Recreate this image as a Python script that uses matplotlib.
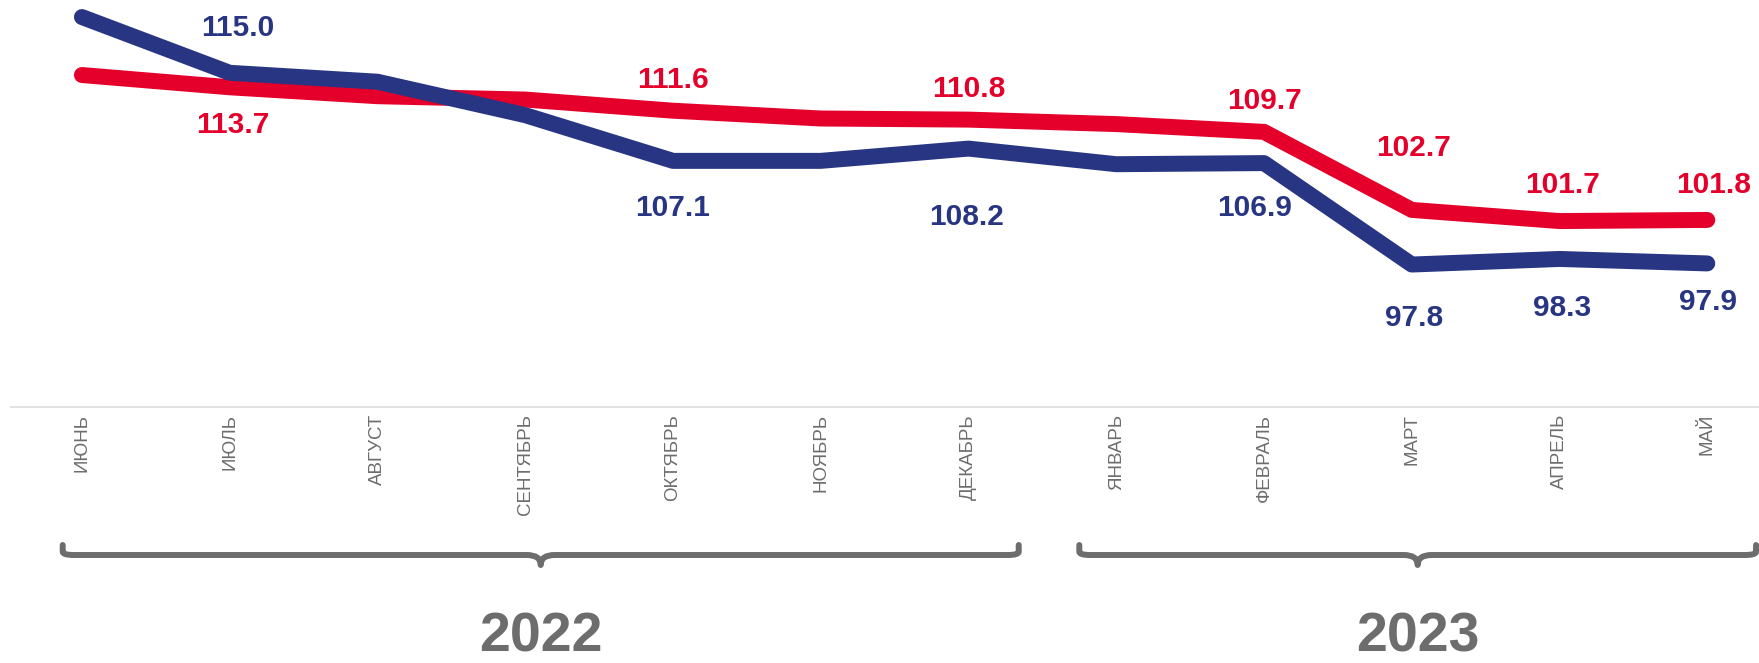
import matplotlib
matplotlib.use('Agg')
import matplotlib.pyplot as plt
from matplotlib.path import Path
from matplotlib.patches import PathPatch
from matplotlib.transforms import blended_transform_factory

plt.rcParams['font.family'] = ['Liberation Sans', 'DejaVu Sans']

# данные
months = ['ИЮНЬ', 'ИЮЛЬ', 'АВГУСТ', 'СЕНТЯБРЬ', 'ОКТЯБРЬ', 'НОЯБРЬ', 'ДЕКАБРЬ',
          'ЯНВАРЬ', 'ФЕВРАЛЬ', 'МАРТ', 'АПРЕЛЬ', 'МАЙ']
blue_vals = [120.0, 115.0, 114.2, 111.2, 107.1, 107.1, 108.2, 106.8, 106.9, 97.8, 98.3, 97.9]
red_vals = [114.8, 113.7, 112.9, 112.6, 111.6, 110.9, 110.8, 110.4, 109.7, 102.7, 101.7, 101.8]
# какие точки подписаны
blue_labeled = [1, 4, 6, 8, 9, 10, 11]
red_labeled = [1, 4, 6, 8, 9, 10, 11]
years = ['2022', '2023']

# оформление
BLUE = '#283583'
RED = '#e4002b'
GRAY = '#6d6d6d'
blue_offsets = {1: (8, 45), 4: (0, -47), 6: (-2, -68), 8: (-9, -45),
                9: (2, -53), 10: (3, -49), 11: (1, -39)}
red_offsets = {1: (3, -38), 4: (0, 31), 6: (0, 31), 8: (0, 31),
               9: (2, 62), 10: (3, 36), 11: (6, 35)}
brace_ext = [(-0.13, 6.34), (6.75, 11.33)]

W, H = 1759, 663
fig = plt.figure(figsize=(W / 100, H / 100), dpi=100)
ax = fig.add_axes([11 / W, 1 - 407 / H, (W - 11) / W, 407 / H])

x = list(range(len(months)))
ax.plot(x, red_vals, color=RED, lw=11.5, solid_capstyle='round', solid_joinstyle='round', zorder=3)
ax.plot(x, blue_vals, color=BLUE, lw=11.5, solid_capstyle='round', solid_joinstyle='round', zorder=4)

for i in blue_labeled:
    dx, dy = blue_offsets[i]
    ax.annotate(f'{blue_vals[i]:.1f}', (x[i], blue_vals[i]), xytext=(dx, dy),
                textcoords='offset pixels', ha='center', va='center',
                fontsize=21.5, fontweight='bold', color=BLUE)
for i in red_labeled:
    dx, dy = red_offsets[i]
    ax.annotate(f'{red_vals[i]:.1f}', (x[i], red_vals[i]), xytext=(dx, dy),
                textcoords='offset pixels', ha='center', va='center',
                fontsize=21.5, fontweight='bold', color=RED)

ax.set_xlim(-0.48, 11.35)
ax.set_ylim(85.02, 121.53)
ax.set_yticks([])
ax.set_xticks(x)
ax.set_xticklabels(months, rotation=90, fontsize=13.5, color=GRAY)
ax.tick_params(axis='x', length=0, pad=5)
for s in ['top', 'left', 'right']:
    ax.spines[s].set_visible(False)
ax.spines['bottom'].set_color('#dcdcdc')
ax.spines['bottom'].set_linewidth(1.2)

# фигурные скобки под месяцами
trans = blended_transform_factory(ax.transData, fig.transFigure)
unit_px = ax.transData.transform((1, 0))[0] - ax.transData.transform((0, 0))[0]


def brace(x0, x1):
    rx = 11 / unit_px
    tx = 14 / unit_px
    y_line = 1 - 555 / H
    y_top = 1 - 545 / H
    y_tip = 1 - 565 / H
    ry = 11 / H
    xc = (x0 + x1) / 2
    verts = [(x0, y_top), (x0, y_line + ry * 0.3),
             (x0, y_line), (x0 + rx, y_line),
             (xc - tx, y_line),
             (xc, y_line), (xc, y_tip),
             (xc, y_line), (xc + tx, y_line),
             (x1 - rx, y_line),
             (x1, y_line), (x1, y_line + ry * 0.3),
             (x1, y_top)]
    codes = [Path.MOVETO, Path.LINETO,
             Path.CURVE3, Path.CURVE3,
             Path.LINETO,
             Path.CURVE3, Path.CURVE3,
             Path.CURVE3, Path.CURVE3,
             Path.LINETO,
             Path.CURVE3, Path.CURVE3,
             Path.LINETO]
    p = PathPatch(Path(verts, codes), transform=trans, fill=False,
                  edgecolor=GRAY, lw=4.3, capstyle='round', joinstyle='round', clip_on=False)
    ax.add_patch(p)


for (b0, b1), yr in zip(brace_ext, years):
    brace(b0, b1)
    ax.text((b0 + b1) / 2, 1 - 637 / H, yr, transform=trans, ha='center', va='center',
            fontsize=40, fontweight='bold', color=GRAY)

fig.savefig('out.png', dpi=100)
